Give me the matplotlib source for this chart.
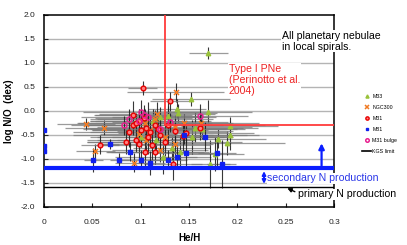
import numpy as np
import matplotlib
matplotlib.use("Agg")
import matplotlib.pyplot as plt
from matplotlib.lines import Line2D

plt.rcParams["font.family"] = ["Liberation Sans", "DejaVu Sans"]

# M33
m33_x = [0.170, 0.152, 0.138, 0.170, 0.120, 0.128, 0.139, 0.113, 0.156, 0.163, 0.153, 0.180,
         0.189, 0.192, 0.192, 0.177, 0.172, 0.132, 0.141, 0.123, 0.100, 0.116]
m33_y = [1.20, 0.24, 0.04, -0.03, -0.13, -0.11, -0.05, -0.21, -0.35, -0.39, -0.55, -0.58,
         -0.67, -0.51, -0.32, -0.90, -1.11, -0.78, -0.85, -0.97, -0.55, -0.60]
m33_xerr = [0.020, 0.040, 0.030, 0.045, 0.050, 0.035, 0.040, 0.060, 0.050, 0.045, 0.040, 0.050,
            0.060, 0.030, 0.050, 0.030, 0.020, 0.040, 0.030, 0.050, 0.030, 0.040]
m33_yerr = [0.12, 0.15, 0.20, 0.25, 0.20, 0.30, 0.20, 0.25, 0.30, 0.20, 0.35, 0.20,
            0.25, 0.30, 0.20, 0.35, 0.50, 0.25, 0.30, 0.35, 0.20, 0.30]

# NGC300
ngc_x = [0.043, 0.062, 0.053, 0.093, 0.136, 0.117, 0.104, 0.145, 0.135, 0.162, 0.135, 0.120,
         0.110, 0.098, 0.105, 0.125, 0.115]
ngc_y = [-0.28, -0.35, -0.84, -1.08, 0.38, -0.07, -0.26, -0.26, -0.33, -0.26, -0.69, -0.82,
         -0.40, -0.48, -0.60, -0.55, -0.18]
ngc_xerr = [0.030, 0.040, 0.020, 0.020, 0.050, 0.060, 0.070, 0.050, 0.080, 0.060, 0.040, 0.050,
            0.060, 0.040, 0.050, 0.070, 0.060]
ngc_yerr = [0.12, 0.15, 0.15, 0.20, 0.20, 0.25, 0.30, 0.20, 0.25, 0.20, 0.30, 0.25,
            0.30, 0.25, 0.30, 0.25, 0.20]

# M31
m31_x = [0.102, 0.130, 0.092, 0.098, 0.092, 0.135, 0.144, 0.147, 0.161, 0.104, 0.115, 0.133,
         0.098, 0.058, 0.105, 0.110, 0.100, 0.115, 0.120, 0.108, 0.095, 0.125, 0.112, 0.103,
         0.118, 0.088, 0.128, 0.095, 0.085]
m31_y = [0.47, 0.20, -0.09, -0.21, -0.30, -0.42, -0.53, -0.47, -0.35, -0.85, -0.85, -1.10,
         -0.69, -0.71, -0.35, -0.45, -0.40, -0.30, -0.50, -0.55, -0.60, -0.65, -0.72, -0.15,
         -0.38, -0.45, -0.30, -0.25, -0.65]
m31_xerr = [0.015, 0.020, 0.040, 0.050, 0.030, 0.060, 0.050, 0.070, 0.060, 0.040, 0.050, 0.030,
            0.040, 0.020, 0.060, 0.080, 0.050, 0.070, 0.090, 0.060, 0.050, 0.080, 0.060, 0.050,
            0.070, 0.040, 0.100, 0.060, 0.040]
m31_yerr = [0.15, 0.20, 0.30, 0.25, 0.20, 0.25, 0.30, 0.20, 0.25, 0.30, 0.25, 0.35,
            0.30, 0.20, 0.25, 0.30, 0.35, 0.25, 0.30, 0.35, 0.25, 0.30, 0.35, 0.20,
            0.25, 0.30, 0.40, 0.20, 0.25]

# M81
m81_x = [0.0, 0.0, 0.0, 0.051, 0.068, 0.078, 0.089, 0.100, 0.110, 0.128, 0.138, 0.147,
         0.145, 0.166, 0.179, 0.184]
m81_y = [-0.40, -0.73, -0.84, -1.03, -0.69, -1.03, -0.85, -1.02, -1.08, -1.02, -0.97, -0.87,
         -0.50, -0.54, -0.87, -1.11]
m81_xerr = [0.0, 0.0, 0.0, 0.010, 0.010, 0.010, 0.020, 0.020, 0.015, 0.020, 0.020, 0.030,
            0.030, 0.020, 0.020, 0.015]
m81_yerr = [0.0, 0.0, 0.0, 0.25, 0.10, 0.15, 0.20, 0.20, 0.25, 0.20, 0.25, 0.30,
            0.20, 0.30, 0.30, 0.50]

# M31 bulge
blg_x = [0.083, 0.100, 0.103, 0.108, 0.161, 0.120, 0.130, 0.098, 0.088]
blg_y = [-0.30, -0.03, -0.09, -0.12, -0.10, -0.37, -0.24, -0.21, -0.17]
blg_xerr = [0.040, 0.060, 0.050, 0.070, 0.050, 0.080, 0.060, 0.050, 0.040]
blg_yerr = [0.20, 0.25, 0.20, 0.30, 0.25, 0.30, 0.20, 0.25, 0.20]

xticks = [0, 0.05, 0.1, 0.15, 0.2, 0.25, 0.3]
xticklabels = ["0", "0.05", "0.1", "0.15", "0.2", "0.25", "0.3"]
yticks = [-2.0, -1.5, -1.0, -0.5, 0.0, 0.5, 1.0, 1.5, 2.0]

fig = plt.figure(figsize=(4.07, 2.45), dpi=100)
ax = fig.add_axes([0.108, 0.156, 0.713, 0.784])
ax.set_xlim(0, 0.3)
ax.set_ylim(-2.0, 2.0)

for yv in yticks[1:-1]:
    ax.axhline(yv, color="#b4b4b4", lw=1.0, zorder=0)

series = [
    (m33_x, m33_y, m33_xerr, m33_yerr, dict(marker="^", ms=3.2, color="#99c23a", mec="#99c23a", ls="none")),
    (ngc_x, ngc_y, ngc_xerr, ngc_yerr, dict(marker="x", ms=3.6, color="#f07a22", mec="#f07a22", mew=1.1, ls="none")),
    (m31_x, m31_y, m31_xerr, m31_yerr, dict(marker="o", ms=3.4, color="#ff3030", mfc="#ff8080", mec="#e80000", mew=1.0, ls="none")),
    (m81_x, m81_y, m81_xerr, m81_yerr, dict(marker="s", ms=3.0, color="#1020ee", mec="#1020ee", ls="none")),
    (blg_x, blg_y, blg_xerr, blg_yerr, dict(marker="o", ms=3.6, color="#e8208f", mfc="none", mec="#e8208f", mew=1.1, ls="none")),
]
for xs, ys, xe, ye, st in series:
    ax.errorbar(xs, ys, xerr=xe, fmt="none", ecolor="#7a7a7a", elinewidth=0.9, alpha=0.75, zorder=1)
    ax.errorbar(xs, ys, yerr=ye, fmt="none", ecolor="#222222", elinewidth=0.8, alpha=0.9, zorder=1)
for xs, ys, xe, ye, st in series:
    ax.plot(xs, ys, zorder=3, **st)

# reference lines
ax.axhline(-1.2, color="#0a1eff", lw=3, zorder=4)
ax.axhline(-1.58, color="black", lw=1.0, zorder=2)
ax.plot([0.125, 0.125], [-0.3, 2.0], color="#ff3b3b", lw=1.3, zorder=4)
ax.plot([0.125, 0.3], [-0.3, -0.3], color="#ff3b3b", lw=1.3, zorder=4)

ax.annotate("", xy=(0.287, -0.62), xytext=(0.287, -1.2),
            arrowprops=dict(arrowstyle="-|>", color="#0a1eff", lw=1.6, mutation_scale=8))
ax.annotate("", xy=(0.2275, -1.2), xytext=(0.2275, -1.58),
            arrowprops=dict(arrowstyle="<|-|>", color="#0a1eff", lw=1.4, mutation_scale=5))
ax.annotate("", xy=(0.249, -1.59), xytext=(0.262, -1.71),
            arrowprops=dict(arrowstyle="-|>", color="black", lw=1.0, mutation_scale=6))

wb = dict(facecolor="white", edgecolor="none", pad=0.5)
ax.text(0.231, -1.41, "secondary N production", color="#2a36e8", fontsize=7.6,
        va="center", ha="left", bbox=wb, zorder=6)
ax.text(0.263, -1.74, "primary N production", color="black", fontsize=7.6,
        va="center", ha="left", bbox=wb, zorder=6)
ax.text(0.191, 0.64, "Type I PNe\n(Perinotto et al.\n2004)", color="#ee2222", fontsize=7.6,
        va="center", ha="left", linespacing=1.1, bbox=wb, zorder=6)
ax.text(0.246, 1.45, "All planetary nebulae\nin local spirals.", color="black", fontsize=7.6,
        va="center", ha="left", linespacing=1.1, bbox=wb, zorder=6)

ax.set_xticks(xticks)
ax.set_xticklabels(xticklabels)
ax.set_yticks(yticks)
ax.set_yticklabels(["%.1f" % v for v in yticks])
ax.tick_params(axis="both", direction="in", length=3, labelsize=6, colors="#222222")
ax.tick_params(axis="x", pad=9)
ax.tick_params(axis="y", pad=6)
for s in ax.spines.values():
    s.set_linewidth(1.1)
    s.set_color("black")

ax.set_xlabel("He/H", fontsize=7, fontweight="bold", labelpad=5)
ax.set_ylabel("log N/O  (dex)", fontsize=7, fontweight="bold", labelpad=5)

handles = []
for xs, ys, xe, ye, st in series:
    handles.append(Line2D([], [], **st))
handles.append(Line2D([], [], color="black", lw=1.2))
labels = ["M33", "NGC300", "M31", "M81", "M31 bulge", "KGS limit"]
leg = fig.legend(handles, labels, loc="upper left", bbox_to_anchor=(0.885, 0.625),
                 fontsize=3.8, frameon=False, handlelength=1.6, labelspacing=1.15,
                 markerscale=0.7, handletextpad=0.3, borderaxespad=0)

fig.savefig("out.png", dpi=100)
